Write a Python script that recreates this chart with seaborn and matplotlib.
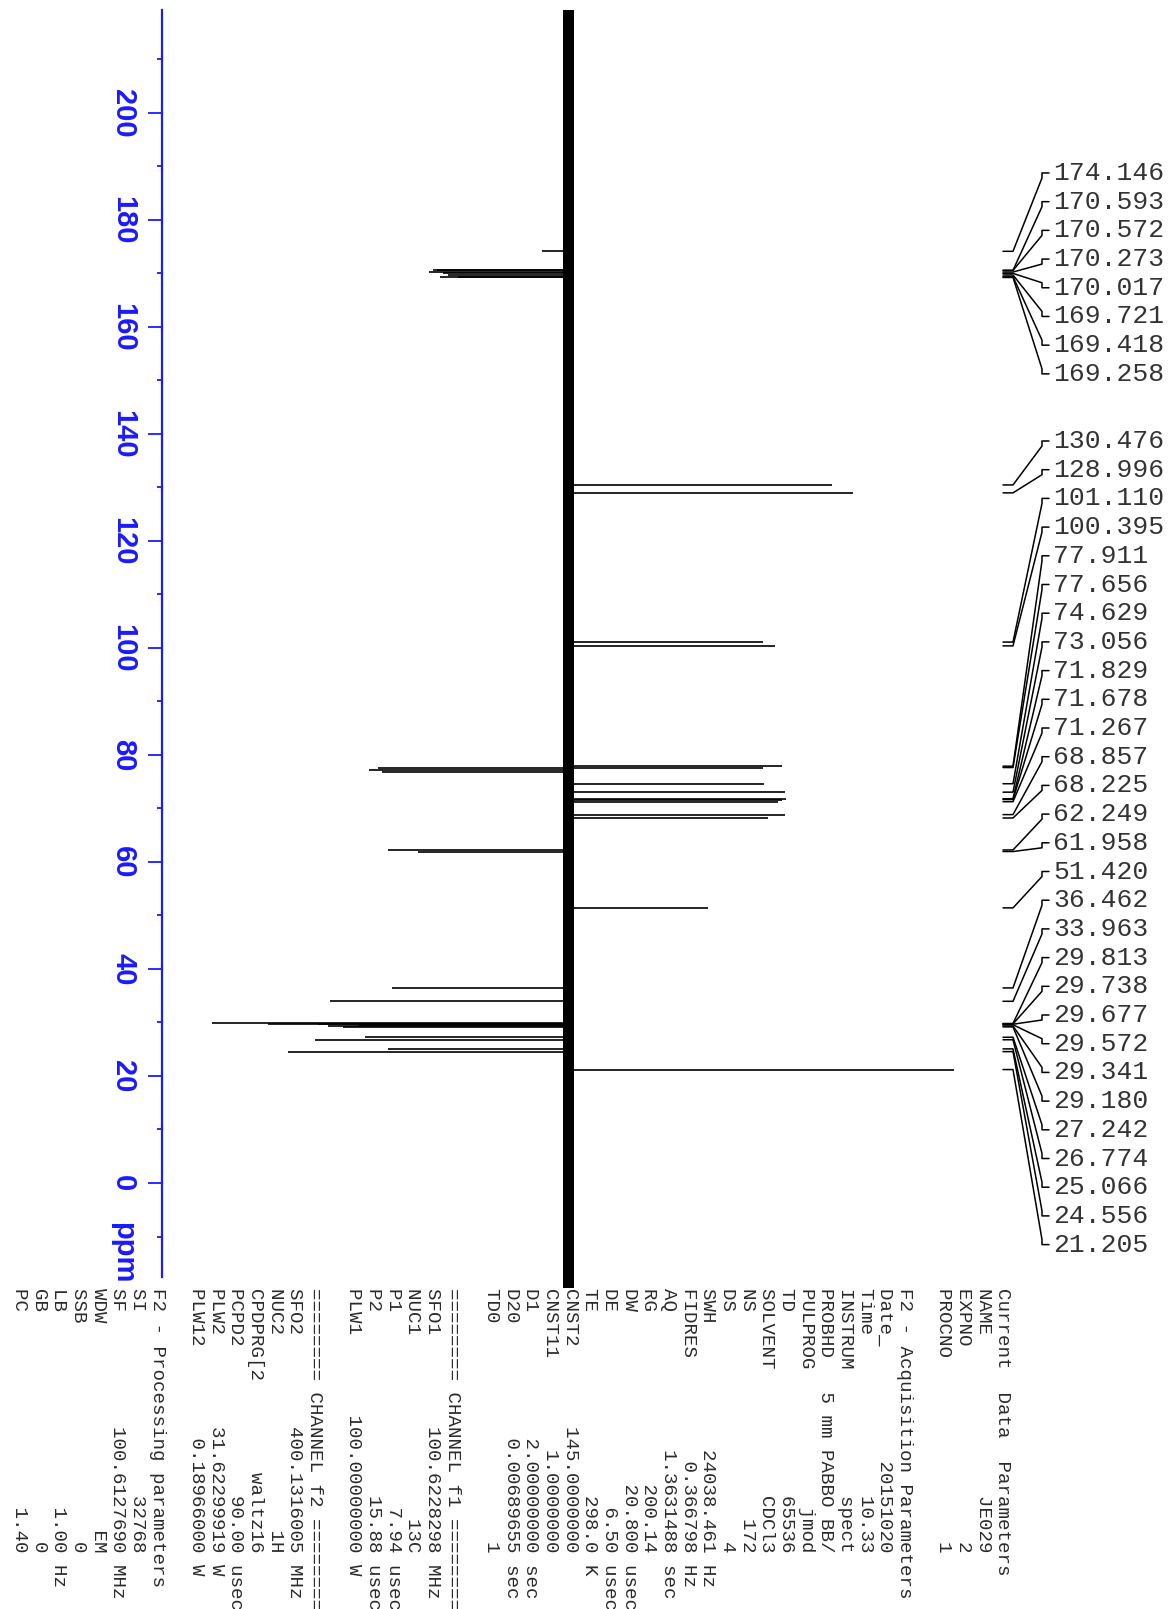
import numpy as np
import pandas as pd
import matplotlib
matplotlib.use("Agg")
import matplotlib.pyplot as plt
import matplotlib.transforms as mtransforms
from matplotlib.ticker import MultipleLocator
import seaborn as sns

# labelled peaks: shift (ppm) and signed height (jmod: + to the right, - to the left)
PEAK_PPM = [174.146, 170.593, 170.572, 170.273, 170.017, 169.721, 169.418, 169.258,
            130.476, 128.996, 101.110, 100.395, 77.911, 77.656, 74.629, 73.056,
            71.829, 71.678, 71.267, 68.857, 68.225, 62.249, 61.958, 51.420,
            36.462, 33.963, 29.813, 29.738, 29.677, 29.572, 29.341, 29.180,
            27.242, 26.774, 25.066, 24.556, 21.205]
PEAK_INT = [-26, -135, -131, -139, -125, -120, -128, -110,
            264, 285, 195, 207, 214, 195, 196, 217,
            218, 214, 210, 217, 200, -180, -150, 140,
            -176, -238, -356, -250, -300, -210, -240, -225,
            -203, -253, -180, -280, 386]

# CDCl3 triplet, not labelled
SOLVENT_PPM = [77.48, 77.16, 76.84]
SOLVENT_INT = [-190, -199, -186]
NOISE_LEVEL = 5.5

PARAM_LINES = [
    "Current  Data  Parameters",
    "NAME              JE029",
    "EXPNO                 2",
    "PROCNO                1",
    "",
    "F2 - Acquisition Parameters",
    "Date_          20151020",
    "Time              10.33",
    "INSTRUM           spect",
    "PROBHD   5 mm PABBO BB/",
    "PULPROG            jmod",
    "TD                65536",
    "SOLVENT           CDCl3",
    "NS                  172",
    "DS                    4",
    "SWH           24038.461 Hz",
    "FIDRES         0.366798 Hz",
    "AQ            1.3631488 sec",
    "RG               200.14",
    "DW               20.800 usec",
    "DE                 6.50 usec",
    "TE                298.0 K",
    "CNST2       145.0000000",
    "CNST11        1.0000000",
    "D1           2.00000000 sec",
    "D20          0.00689655 sec",
    "TD0                   1",
    "",
    "======== CHANNEL f1 ========",
    "SFO1        100.6228298 MHz",
    "NUC1                13C",
    "P1                 7.94 usec",
    "P2                15.88 usec",
    "PLW1       100.00000000 W",
    "",
    "======== CHANNEL f2 ========",
    "SFO2        400.1316005 MHz",
    "NUC2                 1H",
    "CPDPRG[2        waltz16",
    "PCPD2             90.00 usec",
    "PLW2        31.62299919 W",
    "PLW12        0.18966000 W",
    "",
    "F2 - Processing parameters",
    "SI                32768",
    "SF          100.6127690 MHz",
    "WDW                  EM",
    "SSB                   0",
    "LB                 1.00 Hz",
    "GB                    0",
    "PC                 1.40",
]

# layout (pixels of the 1169x1609 page)
W, H = 1169, 1609
PX_PER_PPM = 5.35
LABEL_PITCH = 28.7 / PX_PER_PPM
GROUP_TOPS = [188.79, 138.69]
GROUP1_SIZE = 8
BLUE = "#1a1aff"
MONO = ["Liberation Mono", "DejaVu Sans Mono"]

sns.set_theme(style="white")
plt.rcParams["font.family"] = ["Liberation Sans", "DejaVu Sans"]

fig = plt.figure(figsize=(W / 100, H / 100), dpi=100)
ax = fig.add_axes([162 / W, 1 - 1277 / H, (980 - 162) / W, (1277 - 10) / H])
ax.set_xlim(-406, 412)
ax.set_ylim(-17.57, 219.25)

peaks = pd.DataFrame({"ppm": PEAK_PPM + SOLVENT_PPM, "height": PEAK_INT + SOLVENT_INT})

# baseline noise band + peak sticks
ylo, yhi = ax.get_ylim()
ax.fill_betweenx([ylo - 2, yhi], -NOISE_LEVEL, NOISE_LEVEL, color="black", lw=0, clip_on=False)
ax.hlines(peaks["ppm"], 0, peaks["height"], color="black", lw=1.2)

sns.despine(ax=ax, left=False, bottom=True)
ax.spines["left"].set_color(BLUE)
ax.spines["left"].set_linewidth(1.6)
ax.set_xticks([])
ax.yaxis.set_major_locator(MultipleLocator(20))
ax.yaxis.set_minor_locator(MultipleLocator(10))
ax.tick_params(axis="y", which="major", direction="out", length=10, width=1.3,
               color=BLUE, labelcolor=BLUE, labelsize=21, pad=8, left=True)
ax.tick_params(axis="y", which="minor", direction="out", length=3.5, width=1.3,
               color=BLUE, left=True)
ax.set_yticks(list(range(0, 201, 20)))
for lab in ax.get_yticklabels():
    lab.set_rotation(-90)
    lab.set_fontweight("bold")
    lab.set_va("center")
    lab.set_ha("right")

trans = mtransforms.blended_transform_factory(fig.transFigure, ax.transData)
ax.text(137 / W, -13.1, "ppm", transform=trans, rotation=-90, ha="right", va="center",
        color=BLUE, fontsize=21, fontweight="bold", clip_on=False)

# peak labels with connectors
label_y = []
for i in range(len(PEAK_PPM)):
    if i < GROUP1_SIZE:
        label_y.append(GROUP_TOPS[0] - i * LABEL_PITCH)
    else:
        label_y.append(GROUP_TOPS[1] - (i - GROUP1_SIZE) * LABEL_PITCH)

for ppm, ly in zip(PEAK_PPM, label_y):
    step = 5 / PX_PER_PPM
    d = step if ppm > ly else -step
    if abs(ly - ppm) < step:
        d = ppm - ly
    xs = np.array([1003, 1013, 1042, 1042, 1049]) / W
    ys = [ppm, ppm, ly + d, ly, ly]
    ax.plot(xs, ys, transform=trans, color="black", lw=1.1, clip_on=False)
    ax.text(1053 / W, ly, f"{ppm:.3f}", transform=trans, ha="left", va="center",
            family=MONO, fontsize=19, color="#333333", clip_on=False)

# acquisition / processing parameters, one rotated column per line
for i, line in enumerate(PARAM_LINES):
    if not line:
        continue
    x = (1003 - i * 19.67) / W
    fig.text(x, 1 - 1288 / H, line, rotation=-90, ha="center", va="top",
             family=MONO, fontsize=13.8, color="#2a2a2a")

fig.savefig("out.png", dpi=100)
